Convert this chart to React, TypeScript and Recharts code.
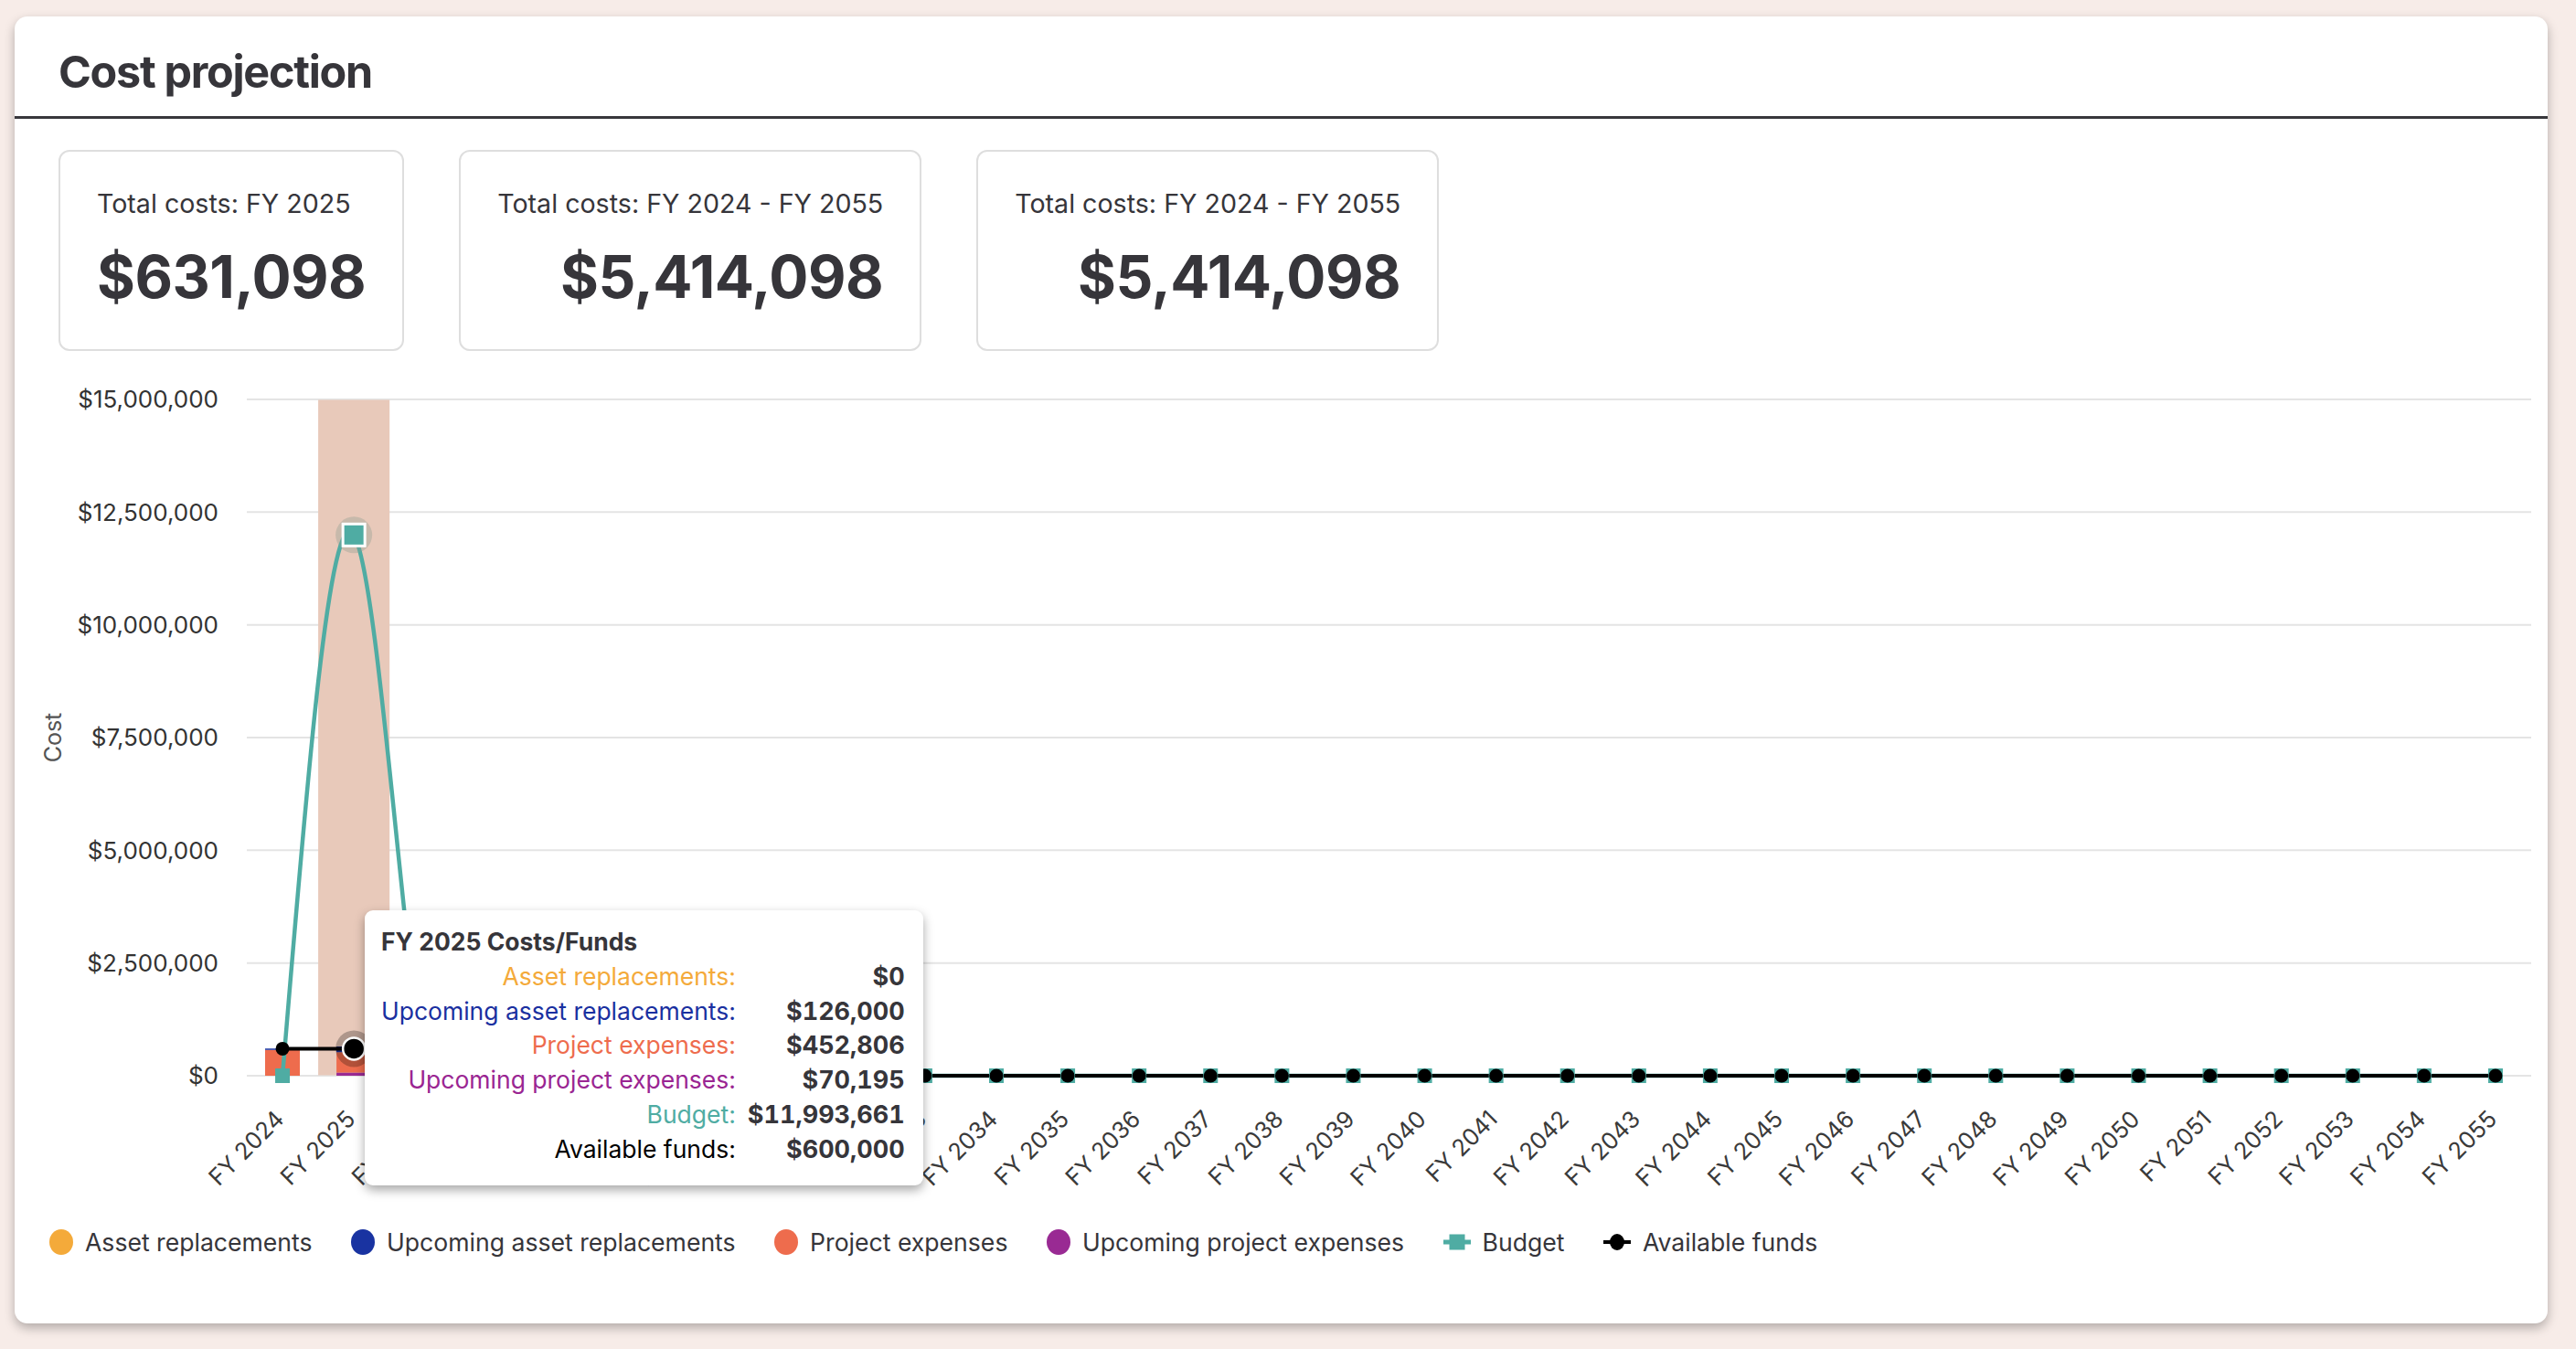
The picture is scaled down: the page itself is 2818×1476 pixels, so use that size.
import React from "react";
import { BarChart, Bar, Line, XAxis, YAxis, CartesianGrid, Tooltip } from "recharts";

const years = [
  "FY 2024", "FY 2025", "FY 2026", "FY 2027", "FY 2028", "FY 2029", "FY 2030", "FY 2031",
  "FY 2032", "FY 2033", "FY 2034", "FY 2035", "FY 2036", "FY 2037", "FY 2038", "FY 2039",
  "FY 2040", "FY 2041", "FY 2042", "FY 2043", "FY 2044", "FY 2045", "FY 2046", "FY 2047",
  "FY 2048", "FY 2049", "FY 2050", "FY 2051", "FY 2052", "FY 2053", "FY 2054", "FY 2055",
];

const assetReplacements = [
  0, 0, 0, 0, 0, 0, 0, 0, 0, 0, 0, 0, 0, 0, 0, 0,
  0, 0, 0, 0, 0, 0, 0, 0, 0, 0, 0, 0, 0, 0, 0, 0,
];
const upcomingAssetReplacements = [
  30000, 126000, 0, 0, 0, 0, 0, 0, 0, 0, 0, 0, 0, 0, 0, 0,
  0, 0, 0, 0, 0, 0, 0, 0, 0, 0, 0, 0, 0, 0, 0, 0,
];
const projectExpenses = [
  575000, 452806, 0, 0, 0, 0, 0, 0, 0, 0, 0, 0, 0, 0, 0, 0,
  0, 0, 0, 0, 0, 0, 0, 0, 0, 0, 0, 0, 0, 0, 0, 0,
];
const upcomingProjectExpenses = [
  0, 70195, 0, 0, 0, 0, 0, 0, 0, 0, 0, 0, 0, 0, 0, 0,
  0, 0, 0, 0, 0, 0, 0, 0, 0, 0, 0, 0, 0, 0, 0, 0,
];
const budget = [
  0, 11993661, 0, 0, 0, 0, 0, 0, 0, 0, 0, 0, 0, 0, 0, 0,
  0, 0, 0, 0, 0, 0, 0, 0, 0, 0, 0, 0, 0, 0, 0, 0,
];
const availableFunds = [
  600000, 600000, 0, 0, 0, 0, 0, 0, 0, 0, 0, 0, 0, 0, 0, 0,
  0, 0, 0, 0, 0, 0, 0, 0, 0, 0, 0, 0, 0, 0, 0, 0,
];

const yTicks = [0, 2500000, 5000000, 7500000, 10000000, 12500000, 15000000];

const summaries = [
  { label: "Total costs: FY 2025", value: 631098 },
  { label: "Total costs: FY 2024 - FY 2055", value: 5414098 },
  { label: "Total costs: FY 2024 - FY 2055", value: 5414098 },
];

const ORANGE = "#F4AA3A";
const BLUE = "#1933A1";
const RED = "#EE6C4D";
const PURPLE = "#992A93";
const TEAL = "#4FACA3";
const BLACK = "#000000";
const TEXT = "#36353a";

const series = [
  { key: "assetReplacements", name: "Asset replacements", color: ORANGE, icon: "circle" },
  { key: "upcomingAssetReplacements", name: "Upcoming asset replacements", color: BLUE, icon: "circle" },
  { key: "projectExpenses", name: "Project expenses", color: RED, icon: "circle" },
  { key: "upcomingProjectExpenses", name: "Upcoming project expenses", color: PURPLE, icon: "circle" },
  { key: "budget", name: "Budget", color: TEAL, icon: "square" },
  { key: "availableFunds", name: "Available funds", color: BLACK, icon: "dot" },
];

const data = years.map((year, i) => ({
  year,
  assetReplacements: assetReplacements[i],
  upcomingAssetReplacements: upcomingAssetReplacements[i],
  projectExpenses: projectExpenses[i],
  upcomingProjectExpenses: upcomingProjectExpenses[i],
  budget: budget[i],
  availableFunds: availableFunds[i],
}));

const money = (v: number) => `$${Math.round(v).toLocaleString("en-US")}`;
const SANS = "Inter, sans-serif";

const YearTick = (props: any) => {
  const { x, y, payload } = props;
  const ax = x + 3;
  const ay = y + 49;
  return (
    <text x={ax} y={ay} transform={`rotate(-45, ${ax}, ${ay})`} textAnchor="end" fontSize={25.5} fill="#3a3a3a" fontFamily={SANS}>
      {payload.value}
    </text>
  );
};

const BudgetDot = (props: any) => (
  <rect key={`b-${props.index}`} x={props.cx - 8} y={props.cy - 8} width={16} height={16} fill={TEAL} />
);

const FundsDot = (props: any) => (
  <circle key={`f-${props.index}`} cx={props.cx} cy={props.cy} r={7.5} fill={BLACK} />
);

const BudgetActiveDot = (props: any) => (
  <g>
    <circle cx={props.cx} cy={props.cy} r={20} fill="#8a9a90" fillOpacity={0.35} />
    <rect x={props.cx - 12} y={props.cy - 12} width={24} height={24} fill={TEAL} stroke="#fff" strokeWidth={3} />
  </g>
);

const FundsActiveDot = (props: any) => (
  <g>
    <circle cx={props.cx} cy={props.cy} r={20} fill={BLACK} fillOpacity={0.25} />
    <circle cx={props.cx} cy={props.cy} r={12} fill={BLACK} stroke="#fff" strokeWidth={2.5} />
  </g>
);

const tooltipLabelColors: Record<string, string> = {
  assetReplacements: ORANGE,
  upcomingAssetReplacements: "#1a30a0",
  projectExpenses: RED,
  upcomingProjectExpenses: "#9a2592",
  budget: TEAL,
  availableFunds: BLACK,
};

const CostTooltip = (props: any) => {
  const { active, payload, label } = props;
  if (!active || !payload || !payload.length) return null;
  const row = payload[0].payload;
  return (
    <div
      style={{
        background: "#fff",
        borderRadius: 9,
        boxShadow: "0 5px 12px rgba(0,0,0,0.35)",
        padding: "16px 20px 20px 18px",
        fontFamily: SANS,
        fontSize: 26.5,
        lineHeight: "37.8px",
        color: TEXT,
        whiteSpace: "nowrap",
      }}
    >
      <div style={{ fontWeight: 700 }}>{label} Costs/Funds</div>
      <div style={{ display: "grid", gridTemplateColumns: "auto auto", columnGap: 13 }}>
        {series.map((s) => (
          <React.Fragment key={s.key}>
            <div style={{ textAlign: "right", color: tooltipLabelColors[s.key] }}>{s.name}:</div>
            <div style={{ textAlign: "right", fontWeight: 700, fontSize: 27, fontVariantNumeric: "tabular-nums" }}>{money(row[s.key])}</div>
          </React.Fragment>
        ))}
      </div>
    </div>
  );
};

const LegendIcon = ({ icon, color }: { icon: string; color: string }) => {
  if (icon === "circle") {
    return <svg width={26} height={28}><ellipse cx={13} cy={14} rx={13} ry={14} fill={color} /></svg>;
  }
  if (icon === "square") {
    return (
      <svg width={30} height={28}>
        <rect x={0} y={11.5} width={30} height={5} fill={color} />
        <rect x={6.5} y={5.5} width={17} height={17} fill={color} />
      </svg>
    );
  }
  return (
    <svg width={30} height={28}>
      <rect x={0} y={12} width={30} height={4} fill={color} />
      <ellipse cx={15} cy={14} rx={8} ry={9} fill={color} />
    </svg>
  );
};

export default function App() {
  return (
    <div style={{ position: "absolute", left: 0, top: 0, width: 2818, height: 1476, background: "#F7ECE8", fontFamily: SANS, overflow: "hidden" }}>
      <div
        style={{
          position: "absolute",
          left: 16,
          top: 18,
          width: 2771,
          height: 1430,
          background: "#fff",
          borderRadius: 14,
          boxShadow: "0 5px 12px rgba(0,0,0,0.28)",
        }}
      >
        <div style={{ position: "absolute", left: 48, top: 31, fontSize: 48.5, fontWeight: 700, lineHeight: "60px", color: TEXT, letterSpacing: -1.3 }}>
          Cost projection
        </div>
        <div style={{ position: "absolute", left: 0, right: 0, top: 109, height: 3, background: "#38373c" }} />
        <div style={{ position: "absolute", left: 48, top: 146, display: "flex", gap: 60 }}>
          {summaries.map((s, i) => (
            <div
              key={i}
              style={{
                boxSizing: "border-box",
                height: 220,
                border: "2px solid #dedede",
                borderRadius: 12,
                padding: "40px 40px 0 40px",
                display: "flex",
                flexDirection: "column",
                color: TEXT,
              }}
            >
              <div style={{ alignSelf: "flex-start", fontSize: 28.6, lineHeight: "34px", whiteSpace: "nowrap" }}>{s.label}</div>
              <div style={{ alignSelf: "flex-end", fontSize: 64, fontWeight: 700, lineHeight: "78px", marginTop: 24, letterSpacing: -0.5 }}>
                {money(s.value)}
              </div>
            </div>
          ))}
        </div>
        <div style={{ position: "absolute", left: 38, top: 1325, display: "flex", alignItems: "center", gap: 42.5, fontSize: 26.6, color: TEXT }}>
          {series.map((s) => (
            <div key={s.key} style={{ display: "flex", alignItems: "center", gap: 13 }}>
              <LegendIcon icon={s.icon} color={s.color} />
              <span>{s.name}</span>
            </div>
          ))}
        </div>
      </div>

      <div style={{ position: "absolute", left: 0, top: 0 }}>
        <BarChart width={2818} height={1476} data={data} margin={{ top: 437, right: 49, bottom: 239, left: 0 }} barSize={38}>
          <CartesianGrid vertical={false} stroke="#e4e4e4" strokeWidth={2} />
          <XAxis dataKey="year" axisLine={false} tickLine={false} tickSize={0} tickMargin={0} height={60} interval={0} tick={<YearTick />} />
          <YAxis
            width={270}
            domain={[0, 15000000]}
            ticks={yTicks}
            axisLine={false}
            tickLine={false}
            tickSize={0}
            tickMargin={31}
            tickFormatter={money}
            tick={{ fontSize: 26, fill: "#333", fontFamily: SANS }}
            label={{ value: "Cost", angle: -90, position: "insideLeft", offset: 58, style: { textAnchor: "middle", fontSize: 25, fill: "#555", fontFamily: SANS } }}
          />
          <Tooltip
            content={<CostTooltip />}
            cursor={{ fill: "#E8C9BA" }}
            defaultIndex={1}
            active={true}
            position={{ x: 399, y: 996 }}
            isAnimationActive={false}
          />
          <Bar dataKey="assetReplacements" stackId="a" fill={ORANGE} isAnimationActive={false} />
          <Bar dataKey="upcomingProjectExpenses" stackId="a" fill={PURPLE} isAnimationActive={false} />
          <Bar dataKey="projectExpenses" stackId="a" fill={RED} isAnimationActive={false} />
          <Bar dataKey="upcomingAssetReplacements" stackId="a" fill={BLUE} isAnimationActive={false} />
          <Line
            type="natural"
            dataKey="budget"
            stroke={TEAL}
            strokeWidth={4.5}
            dot={BudgetDot}
            activeDot={BudgetActiveDot}
            isAnimationActive={false}
          />
          <Line
            type="monotone"
            dataKey="availableFunds"
            stroke={BLACK}
            strokeWidth={4}
            dot={FundsDot}
            activeDot={FundsActiveDot}
            isAnimationActive={false}
          />
        </BarChart>
      </div>
    </div>
  );
}
